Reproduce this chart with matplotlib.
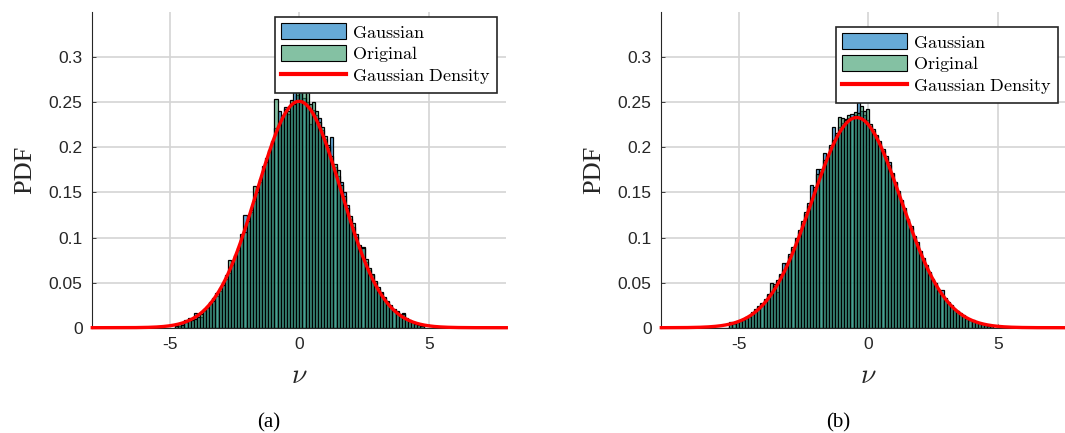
import numpy as np
import matplotlib
matplotlib.use("Agg")
import matplotlib.pyplot as plt
from matplotlib.patches import Patch
from matplotlib.lines import Line2D

plt.rcParams['mathtext.fontset'] = 'cm'

# ---------------- data ----------------
bin_width = 0.12

# panel (a): bin centres from -4.74 to 4.74
centers_a = np.linspace(-4.74, 4.74, 80)
gauss_a = [0.003, 0.002, 0.005, 0.008, 0.011, 0.009, 0.016, 0.015, 0.012, 0.018,
           0.022, 0.029, 0.033, 0.035, 0.041, 0.050, 0.054, 0.061, 0.070, 0.081,
           0.086, 0.097, 0.125, 0.121, 0.128, 0.140, 0.155, 0.162, 0.174, 0.188,
           0.195, 0.207, 0.221, 0.240, 0.232, 0.245, 0.237, 0.248, 0.262, 0.258,
           0.262, 0.255, 0.250, 0.226, 0.241, 0.236, 0.232, 0.219, 0.209, 0.203,
           0.211, 0.178, 0.168, 0.162, 0.150, 0.136, 0.121, 0.112, 0.104, 0.089,
           0.090, 0.073, 0.064, 0.058, 0.050, 0.043, 0.040, 0.033, 0.030, 0.024,
           0.020, 0.018, 0.014, 0.016, 0.011, 0.007, 0.006, 0.005, 0.004, 0.002]
orig_a = [0.002, 0.004, 0.003, 0.006, 0.009, 0.008, 0.010, 0.012, 0.015, 0.021,
          0.024, 0.027, 0.030, 0.038, 0.044, 0.047, 0.058, 0.075, 0.072, 0.079,
          0.088, 0.104, 0.106, 0.118, 0.131, 0.157, 0.150, 0.165, 0.179, 0.184,
          0.197, 0.205, 0.253, 0.226, 0.236, 0.242, 0.240, 0.252, 0.248, 0.265,
          0.270, 0.266, 0.272, 0.248, 0.250, 0.240, 0.228, 0.222, 0.212, 0.200,
          0.190, 0.182, 0.175, 0.158, 0.146, 0.133, 0.124, 0.116, 0.101, 0.092,
          0.088, 0.076, 0.066, 0.060, 0.052, 0.045, 0.039, 0.034, 0.029, 0.025,
          0.021, 0.017, 0.015, 0.015, 0.010, 0.008, 0.006, 0.004, 0.003, 0.002]
# fitted density (a): peak height, centre, spread
peak_a, mu_a, sd_a = 0.251, -0.01, 1.62

# panel (b): bin centres from -5.31 to 4.77
centers_b = np.linspace(-5.31, 4.77, 85)
gauss_b = [0.006, 0.004, 0.007, 0.007, 0.010, 0.012, 0.012, 0.017, 0.020, 0.024,
           0.026, 0.031, 0.036, 0.040, 0.048, 0.040, 0.060, 0.072, 0.070, 0.082,
           0.087, 0.096, 0.108, 0.115, 0.126, 0.138, 0.158, 0.153, 0.176, 0.173,
           0.194, 0.190, 0.200, 0.222, 0.214, 0.222, 0.227, 0.231, 0.233, 0.237,
           0.236, 0.250, 0.240, 0.236, 0.230, 0.224, 0.218, 0.212, 0.207, 0.198,
           0.188, 0.184, 0.172, 0.162, 0.149, 0.140, 0.133, 0.120, 0.113, 0.100,
           0.095, 0.083, 0.077, 0.067, 0.061, 0.053, 0.050, 0.041, 0.042, 0.033,
           0.027, 0.025, 0.020, 0.019, 0.015, 0.014, 0.010, 0.009, 0.008, 0.006,
           0.005, 0.004, 0.003, 0.003, 0.002]
orig_b = [0.004, 0.005, 0.006, 0.008, 0.009, 0.011, 0.013, 0.016, 0.021, 0.023,
          0.027, 0.032, 0.037, 0.050, 0.046, 0.053, 0.058, 0.064, 0.072, 0.080,
          0.089, 0.099, 0.106, 0.118, 0.128, 0.135, 0.142, 0.156, 0.170, 0.176,
          0.186, 0.192, 0.203, 0.208, 0.216, 0.234, 0.232, 0.230, 0.236, 0.234,
          0.239, 0.238, 0.246, 0.240, 0.243, 0.226, 0.220, 0.214, 0.205, 0.196,
          0.190, 0.180, 0.170, 0.160, 0.151, 0.142, 0.131, 0.121, 0.110, 0.102,
          0.092, 0.085, 0.075, 0.069, 0.062, 0.054, 0.048, 0.042, 0.036, 0.032,
          0.028, 0.024, 0.021, 0.018, 0.016, 0.013, 0.011, 0.009, 0.007, 0.006,
          0.005, 0.004, 0.003, 0.002, 0.002]
peak_b, mu_b, sd_b = 0.233, -0.45, 1.72

y_ticks = [0, 0.05, 0.1, 0.15, 0.2, 0.25, 0.3]
y_labels = ['0', '0.05', '0.1', '0.15', '0.2', '0.25', '0.3']
x_ticks = [-5, 0, 5]
x_labels = ['-5', '0', '5']

# ---------------- styling ----------------
blue = (0.0, 0.447, 0.741, 0.6)    # face alpha only, edges stay opaque
green = (0.2, 0.6, 0.4, 0.6)
axis_col = '#262626'
tick_font = 'Liberation Sans'
serif_font = 'Liberation Serif'

fig = plt.figure(figsize=(10.65, 4.33), dpi=100)
W, H = 1065.0, 433.0


def panel(left_px, centers, g_vals, o_vals, peak, mu, sd, legend_xy, caption, cap_x):
    ax = fig.add_axes([left_px / W, 105.3 / H, 414 / W, 315.7 / H])
    ax.bar(centers, g_vals, width=bin_width, facecolor=blue,
           edgecolor='black', linewidth=0.9, zorder=2)
    ax.bar(centers, o_vals, width=bin_width, facecolor=green,
           edgecolor='black', linewidth=0.9, zorder=3)
    xs = np.linspace(-8, 8, 600)
    ys = peak * np.exp(-(xs - mu) ** 2 / (2 * sd ** 2))
    ax.plot(xs, ys, color='red', linewidth=2.4, zorder=4, clip_on=False)

    ax.set_xlim(-8, 8)
    ax.set_ylim(0, 0.35)
    ax.set_xticks(x_ticks)
    ax.set_xticklabels(x_labels, fontfamily=tick_font, fontsize=12.5, color=axis_col)
    ax.set_yticks(y_ticks)
    ax.set_yticklabels(y_labels, fontfamily=tick_font, fontsize=12.5, color=axis_col)
    ax.tick_params(direction='in', length=3, width=0.6, color=axis_col, pad=7)
    ax.grid(True, color='#d4d4d4', linewidth=1.2)
    ax.set_axisbelow(True)
    for s in ['top', 'right']:
        ax.spines[s].set_visible(False)
    for s in ['left', 'bottom']:
        ax.spines[s].set_color(axis_col)
        ax.spines[s].set_linewidth(0.8)

    ax.set_ylabel('PDF', fontfamily=serif_font, fontsize=19, color=axis_col, labelpad=9)
    ax.set_xlabel(r'$\nu$', fontsize=20, color=axis_col, labelpad=6)

    handles = [Patch(facecolor=blue, edgecolor='black', linewidth=0.8),
               Patch(facecolor=green, edgecolor='black', linewidth=0.8),
               Line2D([0], [0], color='red', linewidth=3)]
    labels = [r'$\mathrm{Gaussian}$', r'$\mathrm{Original}$', r'$\mathrm{Gaussian\ Density}$']
    leg = ax.legend(handles, labels, loc='upper right',
                    bbox_to_anchor=(legend_xy[0] / W, 1 - legend_xy[1] / H),
                    bbox_transform=fig.transFigure, fontsize=13, frameon=True,
                    fancybox=False, framealpha=1, edgecolor=axis_col,
                    handlelength=3.6, handleheight=1.0, handletextpad=0.3,
                    labelspacing=0.15, borderpad=0.35, borderaxespad=0)
    leg.get_frame().set_linewidth(1.2)
    leg.set_zorder(10)

    fig.text(cap_x / W, 1 - 423 / H, caption, fontfamily=serif_font, fontsize=15,
             ha='center', va='center', color='black')
    return ax


panel(92.3, centers_a, gauss_a, orig_a, peak_a, mu_a, sd_a, (497, 17), '(a)', 269)
panel(661.3, centers_b, gauss_b, orig_b, peak_b, mu_b, sd_b, (1058, 27), '(b)', 838)

fig.savefig('out.png', dpi=100)
